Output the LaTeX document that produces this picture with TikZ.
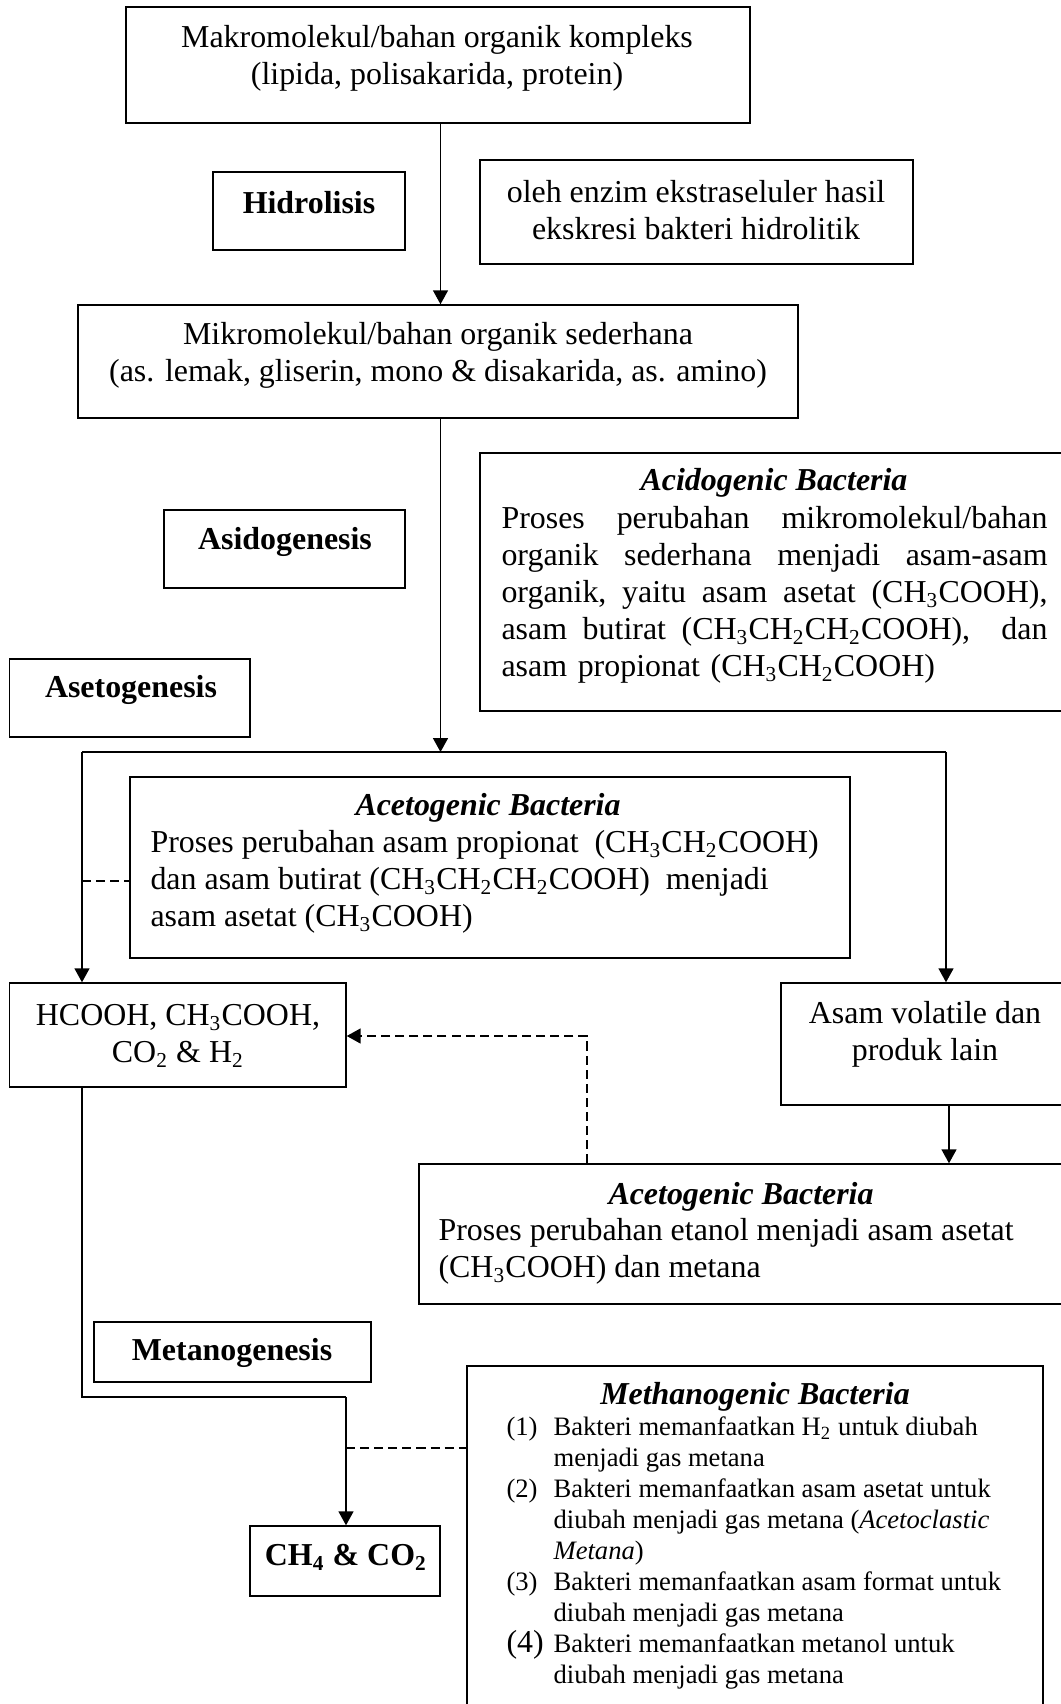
\documentclass[tikz,border=0pt]{standalone}
\usepackage{fontspec}
\setmainfont{Liberation Serif}
\usetikzlibrary{arrows.meta}
\newcommand{\sbs}[1]{\textsubscript{#1}}
\newcommand{\jl}[1]{\leavevmode\hbox to 205.3pt{#1}}
\newcommand{\nm}[1]{\makebox[17.7pt][l]{#1}}
\begin{document}
\begin{tikzpicture}[x=0.376pt,y=-0.376pt,
  pbox/.style 2 args={draw, line width=0.55pt, inner sep=0pt, minimum width=#1*0.376pt, minimum height=#2*0.376pt},
  txt/.style={inner sep=0pt, font=\fontsize{12}{13.9}\selectfont, align=center},
  bt/.style={txt, font=\fontsize{12}{13.9}\selectfont\bfseries},
  ttl/.style={txt, font=\fontsize{12}{13.9}\selectfont\bfseries\itshape},
  arr/.style={line width=0.5pt, -{Triangle[length=5.2pt,width=5.6pt]}},
  ln/.style={line width=0.5pt},
  dsh/.style={line width=0.6pt, dash pattern=on 3.4pt off 1.9pt}]
\useasboundingbox (0,0) rectangle (1061,1704);
\clip (0,0) rectangle (1061,1704);
\fill[white] (0,0) rectangle (1061,1704);

% boxes
\node[pbox={624}{116}] (makro) at (438,65) {};
\node[pbox={192}{78}] (hidro) at (309,211) {};
\node[pbox={433}{104}] (oleh) at (696.5,212) {};
\node[pbox={720}{113}] (mikro) at (438,361.5) {};
\node[pbox={595}{258}] (acido) at (777.5,582) {};
\node[pbox={241}{78}] (asido) at (284.5,549) {};
\node[pbox={240.5}{78}] (aseto) at (129.75,698) {};
\node[pbox={720}{181}] (acetoin) at (490,867.5) {};
\node[pbox={336.5}{104}] (hcooh) at (177.75,1035) {};
\node[pbox={294}{122}] (volatile) at (928,1044) {};
\node[pbox={656}{140}] (aceto2) at (747,1234) {};
\node[pbox={277}{60}] (metano) at (232.5,1352) {};
\node[pbox={576}{354}] (methano) at (755,1543) {};
\node[pbox={190}{70}] (ch4) at (345,1561) {};

% texts
\node[txt] (makrot) at (437,58.5) {Makromolekul/bahan organik kompleks\\(lipida, polisakarida, protein)};
\node[bt] (hidrot) at (309,203) {Hidrolisis};
\node[txt] (oleht) at (696,210) {oleh enzim ekstraseluler hasil\\ekskresi bakteri hidrolitik};
\node[txt] (mikrot) at (438,355) {Mikromolekul/bahan organik sederhana\\(as. lemak, gliserin, mono \& disakarida, as. amino)};
\node[ttl] (acidott) at (774,483) {Acidogenic Bacteria};
\node[txt, anchor=west, text width=205.3pt, align=left] (acidotb) at (501,595) {%
\jl{Proses \hfill perubahan \hfill mikromolekul/bahan}\\
\jl{organik \hfill sederhana \hfill menjadi \hfill asam-asam}\\
\jl{organik, \hfill yaitu \hfill asam \hfill asetat \hfill (CH\sbs{3}COOH),}\\
\jl{asam \hfill butirat \hfill (CH\sbs{3}CH\sbs{2}CH\sbs{2}COOH), \hfill\ \hfill dan}\\
asam propionat (CH\sbs{3}CH\sbs{2}COOH)};
\node[bt] (asidot) at (285,542) {Asidogenesis};
\node[bt] (asetot) at (131,690) {Asetogenesis};
\node[ttl] (acetoint) at (488,808) {Acetogenic Bacteria};
\node[txt, anchor=west, align=left] (acetoinb) at (150,882) {Proses perubahan asam propionat\ \ (CH\sbs{3}CH\sbs{2}COOH)\\
dan asam butirat (CH\sbs{3}CH\sbs{2}CH\sbs{2}COOH)\ \ menjadi\\
asam asetat (CH\sbs{3}COOH)};
\node[txt] (hcooht) at (178,1036) {HCOOH, CH\sbs{3}COOH,\\CO\sbs{2} \& H\sbs{2}};
\node[txt] (volt) at (925,1034) {Asam volatile dan\\produk lain};
\node[ttl] (aceto2t) at (741,1197) {Acetogenic Bacteria};
\node[txt, anchor=west, align=left] (aceto2b) at (438,1251.5) {Proses perubahan etanol menjadi asam asetat\\(CH\sbs{3}COOH) dan metana};
\node[bt] (metanot) at (232,1353) {Metanogenesis};
\node[bt] (ch4t) at (346,1557) {CH\sbs{4} \& CO\sbs{2}};
\node[ttl] (methanot) at (755,1397) {Methanogenic Bacteria};
\node[inner sep=0pt, anchor=base west, font=\fontsize{10}{11.66}\selectfont] (methanob) at (506,1435) {%
\begin{tabular}[t]{@{}l@{}l@{}}
\nm{(1)} & Bakteri memanfaatkan H\sbs{2} untuk diubah\\
 & menjadi gas metana\\
\nm{(2)} & Bakteri memanfaatkan asam asetat untuk\\
 & diubah menjadi gas metana (\textit{Acetoclastic}\\
 & \textit{Metana})\\
\nm{(3)} & Bakteri memanfaatkan asam format untuk\\
 & diubah menjadi gas metana\\
\nm{\fontsize{12}{11.66}\selectfont(4)} & Bakteri memanfaatkan metanol untuk\\
 & diubah menjadi gas metana
\end{tabular}};

% coordinates
\coordinate (split) at (440.5,752);
\coordinate (L) at (82,752);
\coordinate (R) at (946,752);
\coordinate (dl) at (82,881);
\coordinate (dc) at (587,1036);
\coordinate (vx) at (949,1105);
\coordinate (b1) at (82,1397);
\coordinate (b2) at (346,1397);
\coordinate (dm) at (346,1448);

% connectors
\draw[arr] (makro.south -| split) -- (mikro.north -| split);
\draw[arr] (mikro.south -| split) -- (split);
\draw[ln] (L) -- (R);
\draw[arr] (L) -- (L |- hcooh.north);
\draw[arr] (R) -- (R |- volatile.north);
\draw[dsh] (dl) -- (dl -| acetoin.west);
\draw[dsh, -{Triangle[length=5.2pt,width=5.6pt]}] (dc |- aceto2.north) -- (dc) -- (dc -| hcooh.east);
\draw[arr] (volatile.south -| vx) -- (vx |- aceto2.north);
\draw[ln] (hcooh.south -| b1) -- (b1) -- (b2);
\draw[arr] (b2) -- (b2 |- ch4.north);
\draw[dsh] (dm) -- (dm -| methano.west);
\end{tikzpicture}
\end{document}
